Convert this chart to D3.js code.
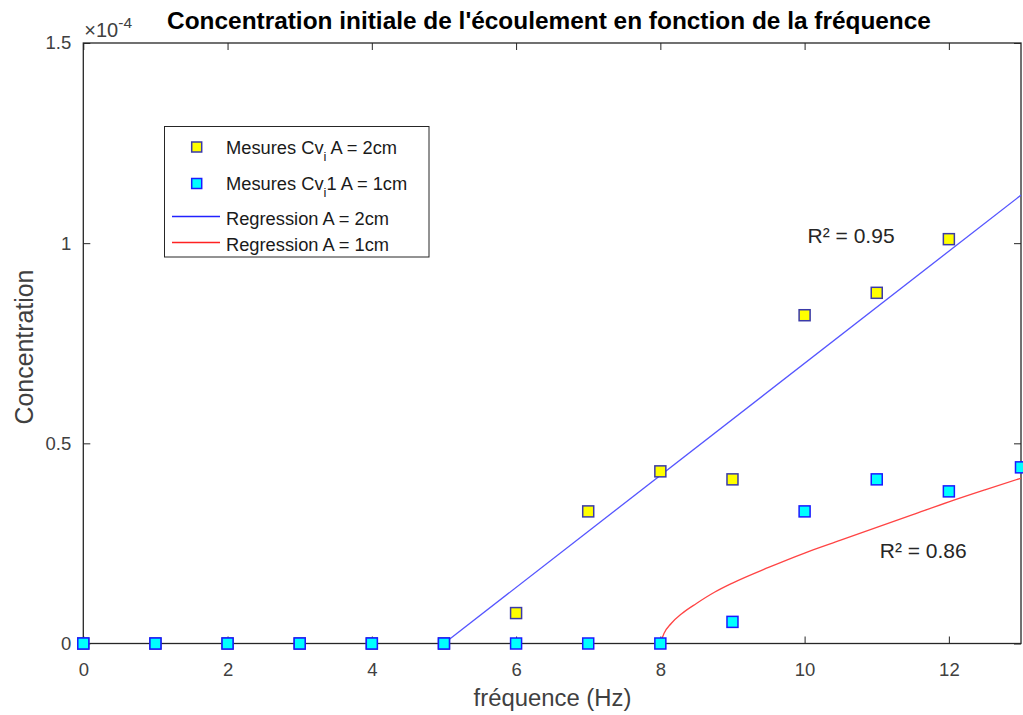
<!DOCTYPE html>
<html><head><meta charset="utf-8">
<script src="https://cdn.jsdelivr.net/npm/d3@7"></script>
<style>body{margin:0;background:#fff}text{font-family:"Liberation Sans",Arial,sans-serif}</style>
</head><body><svg id="c" width="1023" height="715"></svg>
<script>
const freq = [0,1,2,3,4,5,6,7,8,9,10,11,12,13];
const cvA2 = [0,0,0,0,0,0,0.076e-4,0.33e-4,0.43e-4,0.41e-4,0.82e-4,0.876e-4,1.01e-4];
const cvA1 = [0,0,0,0,0,0,0,0,0,0.054e-4,0.33e-4,0.41e-4,0.38e-4,0.44e-4];
const regA2x = [5,13];
const regA2y = [0,1.12e-4];
const regA1x = [8,8.05,8.15,8.3,8.5,8.75,9,9.5,10,10.5,11,11.5,12,12.5,13];
const regA1y = [0,0.025e-4,0.05e-4,0.075e-4,0.1e-4,0.128e-4,0.151e-4,0.19e-4,0.226e-4,0.258e-4,0.29e-4,0.322e-4,0.354e-4,0.384e-4,0.413e-4];
const xTicks = [0,2,4,6,8,10,12];
const yTicks = [0,0.5e-4,1e-4,1.5e-4];
const yTickLabels = ["0","0.5","1","1.5"];
const legendLabels = ["Mesures Cv","Mesures Cv","Regression A = 2cm","Regression A = 1cm"];
const r2Labels = [{x:10,y:1.0e-4,t:"R² = 0.95"},{x:11,y:0.214e-4,t:"R² = 0.86"}];

const svg = d3.select("#c");
const L=83.3,R=1021,T=43,B=643.5;
const x = d3.scaleLinear().domain([0,13]).range([L,R]);
const y = d3.scaleLinear().domain([0,1.5e-4]).range([B,T]);
const axCol="#262626";
function fit(sel, target){ const w=sel.node().getComputedTextLength(); const fs=parseFloat(sel.style("font-size")); sel.style("font-size",(fs*target/w).toFixed(2)+"px"); }

svg.append("rect").attr("x",L).attr("y",T).attr("width",R-L).attr("height",B-T).attr("fill","#fff");

const ax = svg.append("g").attr("transform",`translate(0,${B})`)
  .call(d3.axisBottom(x).tickValues(xTicks).tickSize(-7).tickPadding(19).tickFormat(d3.format("d")));
const axT = svg.append("g").attr("transform",`translate(0,${T})`)
  .call(d3.axisTop(x).tickValues(xTicks).tickSize(-7).tickFormat(""));
const ay = svg.append("g").attr("transform",`translate(${L},0)`)
  .call(d3.axisLeft(y).tickValues(yTicks).tickSize(-7).tickPadding(12).tickFormat((d,i)=>yTickLabels[i]));
const ayR = svg.append("g").attr("transform",`translate(${R},0)`)
  .call(d3.axisRight(y).tickValues(yTicks).tickSize(-7).tickFormat(""));
[ax,axT,ay,ayR].forEach(g=>{
  g.select(".domain").remove();
  g.selectAll(".tick line").attr("stroke",axCol).attr("stroke-width",1);
  g.selectAll(".tick text").attr("fill","#404040").style("font-size","18.5px").style("font-family","Liberation Sans, Arial, sans-serif");
});
ax.selectAll(".tick text").attr("dy","0.71em");
svg.append("rect").attr("x",L).attr("y",T).attr("width",R-L).attr("height",B-T)
  .attr("fill","none").attr("stroke",axCol).attr("stroke-width",1.3);

const ex = svg.append("text").attr("x",L+1).attr("y",37).attr("fill","#404040").style("font-size","20px");
ex.append("tspan").text("×10");
ex.append("tspan").attr("dy",-9).style("font-size","15.5px").text("-4");

const line = d3.line().x(d=>x(d[0])).y(d=>y(d[1]));
svg.append("path").datum(regA2x.map((v,i)=>[v,regA2y[i]])).attr("d",line)
  .attr("fill","none").attr("stroke","#5555ff").attr("stroke-width",1.3);
svg.append("path").datum(regA1x.map((v,i)=>[v,regA1y[i]])).attr("d",line.curve(d3.curveMonotoneX))
  .attr("fill","none").attr("stroke","#ff4444").attr("stroke-width",1.3);

const ms=11;
svg.append("g").selectAll("rect").data(cvA2.map((v,i)=>[freq[i],v])).join("rect")
  .attr("x",d=>x(d[0])-ms/2).attr("y",d=>y(d[1])-ms/2).attr("width",ms).attr("height",ms)
  .attr("fill","#ffff00").attr("stroke","#3a3aa8").attr("stroke-width",1.5);
svg.append("g").selectAll("rect").data(cvA1.map((v,i)=>[freq[i],v])).join("rect")
  .attr("x",d=>x(d[0])-ms/2).attr("y",d=>y(d[1])-ms/2).attr("width",ms).attr("height",ms)
  .attr("fill","#00ffff").attr("stroke","#1a1aff").attr("stroke-width",1.5);

svg.selectAll("text.r2").data(r2Labels).join("text").attr("class","r2")
  .attr("x",d=>x(d.x)+3).attr("y",d=>y(d.y)).attr("fill","#262626").style("font-size","20px").text(d=>d.t)
  .each(function(){ fit(d3.select(this),87); });

const lg = svg.append("g");
lg.append("rect").attr("x",164.5).attr("y",126.5).attr("width",264.5).attr("height",130.5)
  .attr("fill","#fff").attr("stroke",axCol).attr("stroke-width",1);
const rowsY=[147,183.5,216.5,242.5];
lg.append("rect").attr("x",196.7-5).attr("y",rowsY[0]-5).attr("width",10).attr("height",10)
  .attr("fill","#ffff00").attr("stroke","#3a3aa8").attr("stroke-width",1.5);
lg.append("rect").attr("x",196.7-5).attr("y",rowsY[1]-5).attr("width",10).attr("height",10)
  .attr("fill","#00ffff").attr("stroke","#1a1aff").attr("stroke-width",1.5);
lg.append("line").attr("x1",172).attr("x2",220).attr("y1",rowsY[2]).attr("y2",rowsY[2]).attr("stroke","#2222ff").attr("stroke-width",1.3);
lg.append("line").attr("x1",172).attr("x2",220).attr("y1",rowsY[3]).attr("y2",rowsY[3]).attr("stroke","#ff2222").attr("stroke-width",1.3);
const fs="18.3px";
const t1 = lg.append("text").attr("x",226).attr("y",rowsY[0]+6.5).attr("fill","#1a1a1a").style("font-size",fs);
t1.append("tspan").text(legendLabels[0]);
t1.append("tspan").attr("dy",7).style("font-size","13px").text("i");
t1.append("tspan").attr("dy",-7).text(" A = 2cm");
const t2 = lg.append("text").attr("x",226).attr("y",rowsY[1]+6.5).attr("fill","#1a1a1a").style("font-size",fs);
t2.append("tspan").text(legendLabels[1]);
t2.append("tspan").attr("dy",7).style("font-size","13px").text("i");
t2.append("tspan").attr("dy",-7).text("1 A = 1cm");
lg.append("text").attr("x",226).attr("y",rowsY[2]+8).attr("fill","#1a1a1a").style("font-size",fs).text(legendLabels[2]);
lg.append("text").attr("x",226).attr("y",rowsY[3]+8).attr("fill","#1a1a1a").style("font-size",fs).text(legendLabels[3]);

const title = svg.append("text").attr("x",549).attr("y",29).attr("text-anchor","middle").attr("fill","#000")
  .style("font-size","21px").style("font-weight","bold").text("Concentration initiale de l'écoulement en fonction de la fréquence");
fit(title,764);
const xl = svg.append("text").attr("x",552.5).attr("y",706).attr("text-anchor","middle").attr("fill","#404040")
  .style("font-size","23px").text("fréquence (Hz)");
fit(xl,158);
const yl = svg.append("text").attr("transform","translate(33,347) rotate(-90)").attr("text-anchor","middle").attr("fill","#404040")
  .style("font-size","23px").text("Concentration");
fit(yl,155);
</script></body></html>
